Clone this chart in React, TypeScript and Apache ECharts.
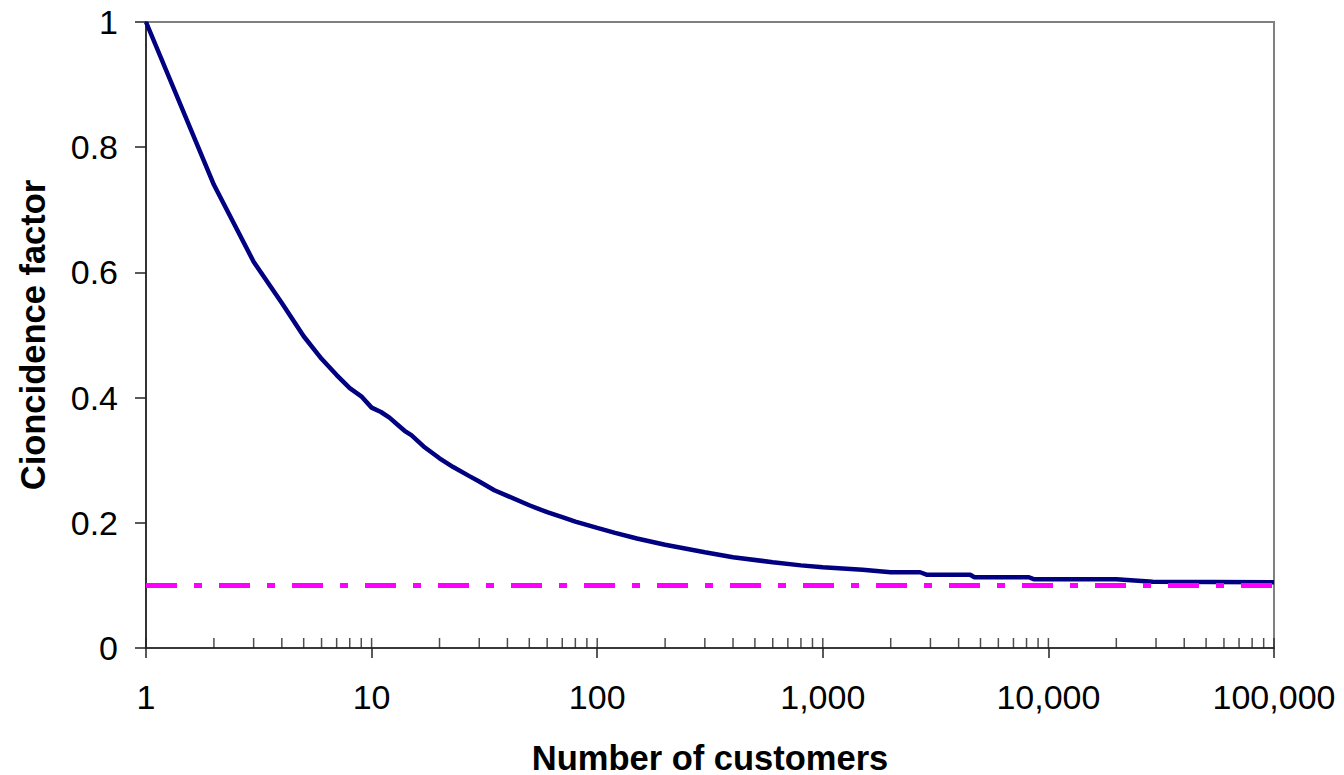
import React, { useEffect, useRef } from "react";
import * as echarts from "echarts";

// Number of customers (x, log scale) and coincidence factor (y)
const customers = [
  1, 2, 3, 4, 5, 6, 7, 8, 9, 10, 11, 12, 13, 14, 15, 17, 20, 23, 27, 30, 35, 40,
  50, 60, 70, 80, 100, 120, 150, 200, 300, 400, 600, 800, 1000, 1500, 2000,
  2700, 2900, 4500, 4700, 8200, 8600, 20000, 29000, 100000,
];
const coincidence = [
  1.0, 0.74, 0.617, 0.551, 0.498, 0.462, 0.436, 0.415, 0.402, 0.384, 0.377,
  0.368, 0.357, 0.347, 0.34, 0.322, 0.303, 0.289, 0.275, 0.266, 0.252, 0.243,
  0.228, 0.217, 0.209, 0.202, 0.192, 0.184, 0.175, 0.165, 0.153, 0.145, 0.137,
  0.132, 0.129, 0.125, 0.121, 0.121, 0.117, 0.117, 0.113, 0.113, 0.11, 0.11,
  0.106, 0.105,
];
// Asymptotic coincidence factor (dash-dot reference line)
const asymptoteX = [1, 100000];
const asymptoteY = [0.1, 0.1];

const yTicks = [0, 0.2, 0.4, 0.6, 0.8, 1];
const xTitle = "Number of customers";
const yTitle = "Cioncidence factor";

// inside tick marks at 1..9 x 10^k
const decades = [1, 10, 100, 1000, 10000];
const tickMultipliers = [1, 2, 3, 4, 5, 6, 7, 8, 9];

export default function App() {
  const ref = useRef<HTMLDivElement>(null);
  useEffect(() => {
    if (!ref.current) return;
    const chart = echarts.init(ref.current, null, { renderer: "svg" });
    const insideTicks: number[][] = [];
    decades.forEach((d) => tickMultipliers.forEach((m) => insideTicks.push([d * m, 0])));
    insideTicks.push([100000, 0]);
    const font = "Liberation Sans, Arial, sans-serif";
    chart.setOption({
      animation: false,
      grid: {
        left: 146,
        right: 70,
        top: 22,
        bottom: 127,
        outerBoundsMode: "none",
        containLabel: false,
        show: true,
        borderColor: "#808080",
        borderWidth: 2,
        backgroundColor: "#ffffff",
      },
      xAxis: {
        type: "log",
        logBase: 10,
        min: 1,
        max: 100000,
        name: xTitle,
        nameLocation: "middle",
        nameGap: 92,
        nameTextStyle: { fontFamily: font, fontSize: 34.5, fontWeight: "bold", color: "#000" },
        axisLine: { show: true, lineStyle: { color: "#222", width: 1.5 } },
        axisTick: { show: true, length: 10, lineStyle: { color: "#222", width: 1.5 } },
        axisLabel: {
          fontFamily: font,
          fontSize: 34,
          color: "#000",
          margin: 32,
          formatter: (v: number) => Number(v).toLocaleString("en-US"),
        },
        splitLine: { show: false },
        minorTick: { show: false },
      },
      yAxis: {
        type: "value",
        min: 0,
        max: 1,
        interval: 0.2,
        name: yTitle,
        nameLocation: "middle",
        nameGap: 96,
        nameTextStyle: { fontFamily: font, fontSize: 34.5, fontWeight: "bold", color: "#000" },
        axisLine: { show: true, lineStyle: { color: "#333", width: 2 } },
        axisTick: { show: true, length: 11, lineStyle: { color: "#222", width: 1.5 } },
        axisLabel: {
          fontFamily: font,
          fontSize: 34,
          color: "#000",
          margin: 28,
          formatter: (v: number) => (yTicks.includes(v) ? String(v) : ""),
        },
        splitLine: { show: false },
      },
      series: [
        {
          type: "scatter",
          data: insideTicks,
          symbol: "rect",
          symbolSize: [1.5, 10],
          symbolOffset: [0, -5],
          itemStyle: { color: "#222" },
          silent: true,
          z: 1,
        },
        {
          type: "line",
          data: customers.map((c, i) => [c, coincidence[i]]),
          showSymbol: false,
          lineStyle: { color: "#000080", width: 4.5 },
          itemStyle: { color: "#000080" },
          z: 3,
        },
        {
          type: "line",
          data: asymptoteX.map((c, i) => [c, asymptoteY[i]]),
          showSymbol: false,
          lineStyle: { color: "#FF00FF", width: 5, type: [31, 17, 8, 17], cap: "butt" },
          itemStyle: { color: "#FF00FF" },
          z: 4,
        },
      ],
    });
    return () => chart.dispose();
  }, []);
  return (
    <div
      ref={ref}
      style={{ position: "fixed", left: 0, top: 0, width: 1344, height: 775, background: "#fff" }}
    />
  );
}
